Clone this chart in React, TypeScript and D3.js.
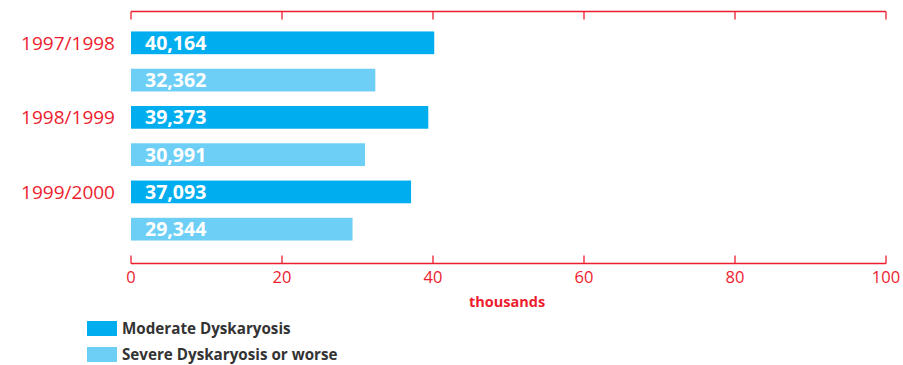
import React from "react";
import * as d3 from "d3";

const years = ["1997/1998", "1998/1999", "1999/2000"];
const moderate = [40164, 39373, 37093];
const severe = [32362, 30991, 29344];
const ticks = [0, 20, 40, 60, 80, 100];
const seriesNames = ["Moderate Dyskaryosis", "Severe Dyskaryosis or worse"];
const colors = ["#00aeef", "#6dcff6"];
const red = "#ed1c2e";

export default function App() {
  const W = 903, H = 365;
  const x = d3.scaleLinear().domain([0, 100]).range([131, 886]);
  const rows: { year: string; s: number; v: number }[] = [];
  years.forEach((y, i) => {
    rows.push({ year: y, s: 0, v: moderate[i] });
    rows.push({ year: y, s: 1, v: severe[i] });
  });
  const yb = d3.scaleBand<number>().domain(d3.range(rows.length)).range([24, 248]).paddingInner(0.39).paddingOuter(0.2);
  const fmt = d3.format(",");
  const topY = 11.5, botY = 263.5;
  return (
    <svg width={W} height={H} style={{ position: "absolute", left: 0, top: 0 }}>
      <g>
        <line x1={x(0)} x2={x(100)} y1={topY} y2={topY} stroke={red} strokeWidth={1.3} />
        {ticks.map(t => (
          <line key={"tt" + t} x1={x(t)} x2={x(t)} y1={topY} y2={topY + 8} stroke={red} strokeWidth={1.3} />
        ))}
        <line x1={x(0)} x2={x(100)} y1={botY} y2={botY} stroke={red} strokeWidth={1.3} />
        {ticks.map(t => (
          <line key={"bt" + t} x1={x(t)} x2={x(t)} y1={botY - 8} y2={botY} stroke={red} strokeWidth={1.3} />
        ))}
        {ticks.map(t => (
          <text key={"bl" + t} x={x(t)} y={283} textAnchor="middle" fill={red} fontFamily="Open Sans" fontSize={16.5}>{t}</text>
        ))}
        <text x={507} y={307} textAnchor="middle" fill={red} fontFamily="Open Sans" fontWeight="bold" fontSize={14.5}>thousands</text>
      </g>
      {rows.map((r, i) => (
        <g key={i}>
          <rect x={x(0)} y={yb(i)} width={x(r.v / 1000) - x(0)} height={yb.bandwidth()} fill={colors[r.s]} />
          <text x={145} y={(yb(i) as number) + yb.bandwidth() / 2 + 7} fill="#fff" fontFamily="Open Sans" fontWeight="bold" fontSize={19.5}>{fmt(r.v)}</text>
          {r.s === 0 && (
            <text x={115} y={(yb(i) as number) + yb.bandwidth() / 2 + 7} textAnchor="end" fill={red} fontFamily="Open Sans" fontSize={19}>{r.year}</text>
          )}
        </g>
      ))}
      {seriesNames.map((n, i) => (
        <g key={n}>
          <rect x={87} y={321 + i * 26} width={30} height={15} fill={colors[i]} />
          <text x={122} y={334 + i * 26} fill="#333" fontFamily="Open Sans" fontWeight="bold" fontSize={15.2}>{n}</text>
        </g>
      ))}
    </svg>
  );
}
